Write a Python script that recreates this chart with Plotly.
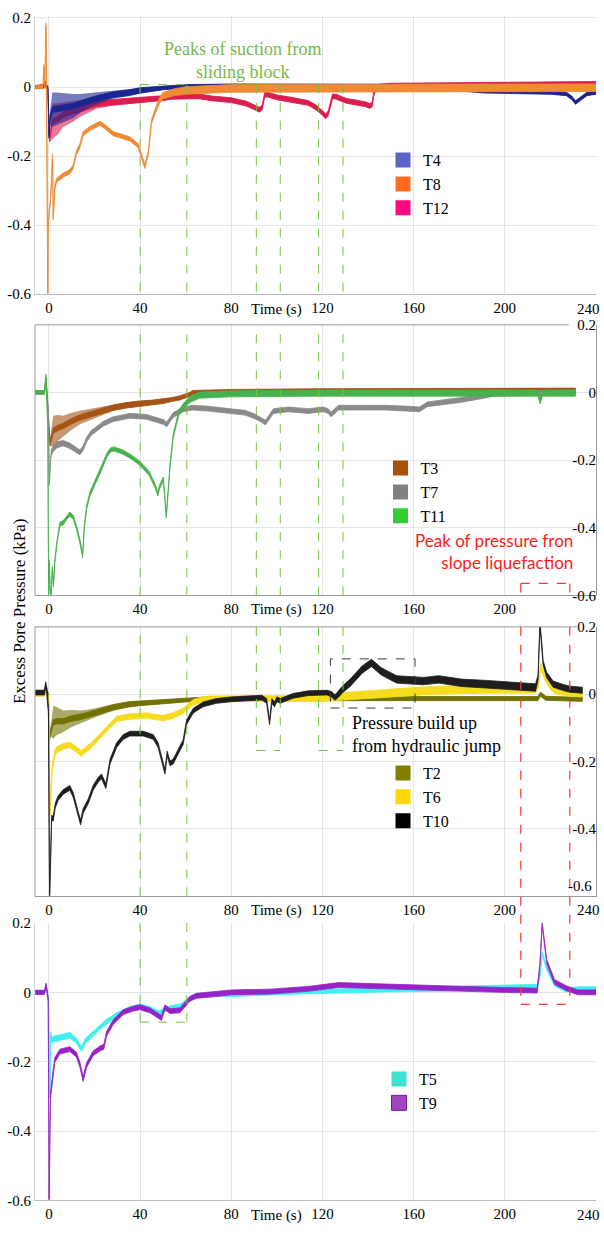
import plotly.graph_objects as go

W, H = 604, 1234
SERIF = "Liberation Serif, Times New Roman, serif"

# ---------------------------------------------------------------------------
# Excess pore pressure records: (time s, pressure kPa, half width of noise band kPa)
# ---------------------------------------------------------------------------
T4 = [(-6, 0.0, 0.004), (-2.5, 0.0, 0.004), (-1.6, 0.012, 0.004), (-1.0, 0.0, 0.004), (-0.4, 0.0, 0.004),
      (0.0, -0.144, 0.004), (0.5, -0.09, 0.02), (1.5, -0.066, 0.05), (3.4, -0.063, 0.047), (6.3, -0.06, 0.042),
      (10.7, -0.055, 0.035), (13.6, -0.048, 0.028), (17, -0.04, 0.022), (20.9, -0.033, 0.017), (28.2, -0.022, 0.012),
      (35.5, -0.016, 0.01), (39.9, -0.01, 0.008), (45, -0.006, 0.006), (50.1, -0.003, 0.005), (60, 0.002, 0.005),
      (80, 0.004, 0.005), (120, 0.004, 0.005), (150, 0.003, 0.005), (165, -0.002, 0.005), (180, -0.006, 0.005),
      (190, -0.012, 0.005), (205, -0.014, 0.005), (220, -0.016, 0.005), (227, -0.02, 0.005), (229.5, -0.032, 0.005),
      (231, -0.045, 0.005), (233, -0.034, 0.005), (236, -0.02, 0.005), (240, -0.016, 0.005)]

T8 = [(-6, 0.0, 0.005), (-2.6, 0.0, 0.005), (-2.2, 0.06, 0.005), (-1.8, 0.0, 0.005), (-1.3, 0.18, 0.005),
      (-0.9, 0.0, 0.005), (-0.5, -0.6, 0.005), (-0.3, -0.42, 0.005), (0.1, -0.36, 0.006), (0.7, -0.33, 0.006),
      (1.2, -0.25, 0.006), (1.6, -0.2, 0.006), (1.9, -0.38, 0.006), (2.6, -0.29, 0.006), (3.4, -0.27, 0.006),
      (6.3, -0.255, 0.006), (9.2, -0.245, 0.006), (10.7, -0.23, 0.006), (12.1, -0.19, 0.006), (13.6, -0.17, 0.006),
      (15, -0.135, 0.006), (18, -0.12, 0.006), (22.4, -0.105, 0.006), (24.6, -0.115, 0.006), (28.2, -0.135, 0.006),
      (35.5, -0.15, 0.006), (39.2, -0.17, 0.006), (40.6, -0.2, 0.006), (42.1, -0.23, 0.006), (43.6, -0.19, 0.006),
      (45, -0.1, 0.006), (47.2, -0.06, 0.007), (48.5, -0.04, 0.008), (50, -0.025, 0.009), (55, -0.015, 0.01),
      (60, -0.01, 0.011), (80, -0.004, 0.011), (120, -0.003, 0.011), (160, -0.002, 0.011), (200, -0.002, 0.011),
      (240, -0.002, 0.011)]

T12 = [(-6, 0.0, 0.004), (-1.5, 0.005, 0.004), (-0.8, 0.0, 0.004), (-0.3, -0.04, 0.004), (0.3, -0.15, 0.008),
       (1.5, -0.1, 0.052), (4, -0.092, 0.045), (6.3, -0.08, 0.036), (10.7, -0.07, 0.03), (13.6, -0.063, 0.024),
       (20.9, -0.049, 0.014), (28.2, -0.044, 0.01), (39.9, -0.038, 0.008), (50, -0.032, 0.007), (54, -0.028, 0.007),
       (60, -0.027, 0.007), (66, -0.027, 0.007), (71.5, -0.033, 0.007), (80, -0.038, 0.007), (86.6, -0.048, 0.007),
       (90, -0.058, 0.007), (92.5, -0.066, 0.007), (93.6, -0.058, 0.007), (94.7, -0.022, 0.007), (96, -0.022, 0.007),
       (100, -0.03, 0.007), (105, -0.035, 0.007), (110, -0.042, 0.007), (113.7, -0.046, 0.007), (117.4, -0.06, 0.007),
       (119.5, -0.072, 0.007), (121.5, -0.085, 0.007), (122.6, -0.075, 0.007), (124.4, -0.027, 0.007),
       (126, -0.028, 0.007), (130.5, -0.04, 0.007), (135, -0.045, 0.007), (139, -0.05, 0.007), (140.8, -0.055, 0.007),
       (141.8, -0.05, 0.007), (142.5, -0.02, 0.007), (143.5, 0.0, 0.007), (150, 0.004, 0.007), (180, 0.006, 0.007),
       (210, 0.008, 0.007), (240, 0.009, 0.007)]

T3 = [(-6, 0.0, 0.004), (-2, 0.0, 0.004), (-1.3, 0.04, 0.004), (-0.9, 0.0, 0.004), (-0.5, -0.05, 0.004),
      (0.0, -0.12, 0.005), (0.5, -0.15, 0.01), (1.9, -0.113, 0.044), (4, -0.105, 0.038), (6.3, -0.099, 0.03),
      (10, -0.085, 0.025), (13.6, -0.074, 0.02), (17, -0.067, 0.017), (20.9, -0.06, 0.015), (28.2, -0.045, 0.01),
      (34, -0.038, 0.009), (39.9, -0.033, 0.008), (45, -0.03, 0.007), (50.1, -0.026, 0.007), (54, -0.021, 0.006),
      (57.5, -0.016, 0.006), (60, -0.01, 0.006), (61.8, -0.006, 0.006), (63, 0.0, 0.006), (80, 0.002, 0.007),
      (120, 0.004, 0.007), (160, 0.005, 0.007), (200, 0.006, 0.007), (231, 0.006, 0.007)]

T7 = [(-6, 0.0, 0.005), (-2, 0.0, 0.005), (-1.2, 0.03, 0.005), (-0.8, 0.0, 0.005), (-0.3, -0.05, 0.005),
      (0.2, -0.27, 0.005), (0.6, -0.2, 0.006), (1.0, -0.18, 0.008), (1.9, -0.165, 0.01), (3.4, -0.155, 0.009),
      (6.3, -0.15, 0.008), (9.2, -0.158, 0.008), (12.1, -0.17, 0.007), (13.6, -0.177, 0.007), (15, -0.165, 0.007),
      (16.5, -0.14, 0.007), (18.5, -0.12, 0.007), (20.9, -0.108, 0.007), (24, -0.092, 0.007), (28.2, -0.079, 0.007),
      (35.5, -0.069, 0.007), (42.8, -0.072, 0.007), (47.2, -0.082, 0.007), (50.5, -0.088, 0.007),
      (51.6, -0.095, 0.007), (53.1, -0.08, 0.007), (54.5, -0.067, 0.007), (58.9, -0.05, 0.007), (63, -0.045, 0.007),
      (70, -0.048, 0.007), (80, -0.055, 0.007), (86, -0.06, 0.007), (90, -0.07, 0.007), (93, -0.08, 0.007),
      (95, -0.089, 0.007), (97, -0.07, 0.007), (98.5, -0.055, 0.007), (105, -0.05, 0.007), (113.7, -0.055, 0.007),
      (120.4, -0.05, 0.007), (122.5, -0.055, 0.007), (123.8, -0.065, 0.007), (125.5, -0.055, 0.007),
      (127, -0.045, 0.007), (135, -0.045, 0.007), (147.5, -0.045, 0.007), (158, -0.048, 0.007), (162.6, -0.05, 0.007),
      (166, -0.035, 0.007), (172, -0.03, 0.007), (181, -0.022, 0.007), (186, -0.016, 0.007), (191, -0.01, 0.007),
      (195, -0.004, 0.007), (200, -0.002, 0.007), (231, 0.0, 0.007)]

T11 = [(-6, 0.0, 0.005), (-2, 0.0, 0.005), (-1.3, 0.05, 0.005), (-0.9, 0.0, 0.005), (-0.5, -0.1, 0.005),
       (-0.1, -0.6, 0.005), (0.2, -0.5, 0.005), (0.5, -0.58, 0.005), (1.0, -0.6, 0.005), (1.5, -0.52, 0.005),
       (2.0, -0.57, 0.005), (2.6, -0.5, 0.005), (3.4, -0.45, 0.005), (4.8, -0.39, 0.006), (6.3, -0.385, 0.006),
       (7.8, -0.37, 0.006), (9.2, -0.36, 0.006), (10.7, -0.37, 0.006), (12.1, -0.4, 0.006), (13.6, -0.44, 0.006),
       (14.8, -0.483, 0.006), (15.5, -0.4, 0.006), (16.5, -0.342, 0.006), (18, -0.3, 0.006), (20, -0.27, 0.006),
       (22.4, -0.235, 0.006), (24, -0.21, 0.006), (25.5, -0.185, 0.006), (27, -0.17, 0.006), (28.5, -0.167, 0.006),
       (32, -0.175, 0.006), (36, -0.19, 0.006), (40, -0.21, 0.006), (44, -0.24, 0.006), (46.5, -0.275, 0.006),
       (47.8, -0.3, 0.006), (48.5, -0.28, 0.006), (50.2, -0.256, 0.006), (51.5, -0.366, 0.006), (52.2, -0.3, 0.006),
       (53.1, -0.22, 0.006), (54.5, -0.13, 0.006), (55.6, -0.1, 0.006), (57, -0.06, 0.007), (59, -0.04, 0.008),
       (62, -0.02, 0.009), (66, -0.008, 0.009), (80, -0.004, 0.009), (120, -0.002, 0.009), (160, -0.001, 0.009),
       (200, -0.002, 0.009), (214.5, -0.002, 0.009), (215.5, -0.025, 0.009), (216.5, -0.002, 0.009),
       (231, -0.002, 0.009)]

T2 = [(-6, 0.005, 0.005), (-2, 0.005, 0.005), (-1.2, 0.02, 0.005), (-0.8, 0.005, 0.005), (-0.3, 0.0, 0.005),
      (0.3, -0.13, 0.006), (0.8, -0.11, 0.015), (1.9, -0.083, 0.049), (3.4, -0.08, 0.042), (6.3, -0.08, 0.032),
      (10, -0.072, 0.025), (13.6, -0.068, 0.02), (17, -0.062, 0.016), (20.9, -0.054, 0.013), (28.2, -0.039, 0.01),
      (35, -0.03, 0.008), (39.9, -0.027, 0.007), (50.1, -0.022, 0.006), (60, -0.017, 0.006), (72, -0.013, 0.006),
      (100, -0.014, 0.006), (130, -0.015, 0.006), (160, -0.013, 0.006), (200, -0.013, 0.006), (214.5, -0.013, 0.006),
      (215.6, 0.0, 0.006), (218, -0.012, 0.006), (232, -0.015, 0.006), (234, -0.015, 0.006)]

T6 = [(-6, 0.0, 0.006), (-2, 0.0, 0.006), (-1.2, 0.01, 0.006), (-0.6, 0.0, 0.006), (0.0, -0.02, 0.006),
      (0.5, -0.357, 0.006), (0.9, -0.3, 0.007), (1.3, -0.23, 0.008), (1.9, -0.2, 0.009), (2.6, -0.175, 0.009),
      (3.4, -0.165, 0.009), (6.3, -0.155, 0.008), (9.2, -0.15, 0.008), (12.1, -0.165, 0.008), (14.3, -0.176, 0.008),
      (16, -0.165, 0.008), (18, -0.155, 0.008), (20.9, -0.136, 0.008), (25.3, -0.103, 0.008), (29.7, -0.073, 0.008),
      (35.5, -0.066, 0.008), (42.8, -0.063, 0.008), (47, -0.068, 0.008), (50.1, -0.071, 0.008), (54.5, -0.063, 0.008),
      (58.9, -0.049, 0.008), (63.3, -0.024, 0.008), (67.7, -0.015, 0.008), (72, -0.013, 0.008), (80, -0.013, 0.008),
      (96.8, -0.013, 0.008), (118.7, -0.013, 0.009), (130.6, -0.005, 0.011), (147.6, 0.003, 0.012),
      (164.3, 0.01, 0.012), (181, 0.014, 0.012), (198, 0.016, 0.012), (213.3, 0.016, 0.012), (214.8, 0.03, 0.01),
      (215.7, 0.083, 0.008), (217.6, 0.05, 0.008), (219.7, 0.025, 0.008), (222, 0.01, 0.008), (226, 0.004, 0.008),
      (234, 0.0, 0.008)]

T10 = [(-6, 0.005, 0.007), (-2, 0.005, 0.007), (-1.4, 0.03, 0.007), (-1.0, 0.01, 0.007), (-0.6, 0.0, 0.007),
       (-0.2, -0.05, 0.007), (0.3, -0.6, 0.007), (0.7, -0.5, 0.007), (1.2, -0.366, 0.007), (1.9, -0.37, 0.007),
       (2.8, -0.33, 0.007), (4.1, -0.308, 0.007), (6.3, -0.29, 0.007), (9.2, -0.278, 0.007), (10.7, -0.3, 0.007),
       (12.9, -0.357, 0.007), (13.9, -0.381, 0.007), (15, -0.347, 0.007), (17.3, -0.317, 0.007),
       (19.4, -0.278, 0.007), (21.6, -0.254, 0.007), (23.1, -0.244, 0.007), (25, -0.273, 0.007), (26.8, -0.2, 0.007),
       (29.7, -0.151, 0.007), (32.6, -0.127, 0.007), (35.5, -0.117, 0.007), (41.4, -0.117, 0.007),
       (45.8, -0.127, 0.007), (47.9, -0.151, 0.007), (49.8, -0.2, 0.007), (50.9, -0.23, 0.007), (51.9, -0.176, 0.007),
       (53.1, -0.205, 0.007), (54.5, -0.2, 0.007), (57.5, -0.161, 0.007), (58.9, -0.142, 0.007), (60.4, -0.083, 0.007),
       (63.3, -0.049, 0.007), (67.7, -0.03, 0.007), (73.5, -0.02, 0.007), (80, -0.015, 0.007), (93.4, -0.01, 0.007),
       (95.5, -0.02, 0.007), (96.8, -0.083, 0.007), (97.8, -0.02, 0.007), (99, -0.03, 0.007), (100, -0.015, 0.007),
       (101.5, -0.02, 0.007), (107, -0.005, 0.007), (113.7, 0.003, 0.007), (122, 0.005, 0.007), (124, 0.0, 0.008),
       (125.5, -0.01, 0.008), (127, 0.0, 0.009), (128.9, 0.015, 0.01), (132.3, 0.035, 0.011), (137.4, 0.073, 0.011),
       (141.5, 0.093, 0.011), (145.8, 0.068, 0.011), (152.5, 0.044, 0.011), (164.3, 0.039, 0.011),
       (171, 0.044, 0.011), (181, 0.034, 0.011), (192, 0.03, 0.011), (206.6, 0.023, 0.011), (213.5, 0.02, 0.011),
       (214.6, 0.05, 0.008), (215.4, 0.21, 0.006), (216.2, 0.15, 0.006), (216.8, 0.093, 0.007), (218.3, 0.058, 0.008),
       (221.2, 0.03, 0.009), (225.6, 0.02, 0.009), (228.5, 0.015, 0.009), (234, 0.012, 0.009)]

T5 = [(-6, 0.0, 0.005), (-2, 0.0, 0.005), (-1.2, 0.02, 0.005), (-0.7, 0.0, 0.005), (-0.2, -0.02, 0.005),
      (0.2, -0.2, 0.005), (0.5, -0.3, 0.005), (0.8, -0.12, 0.006), (1.2, -0.14, 0.007), (1.9, -0.135, 0.008),
      (3.4, -0.133, 0.008), (6.3, -0.128, 0.008), (9.2, -0.124, 0.008), (12.1, -0.14, 0.007), (14.3, -0.164, 0.007),
      (16, -0.14, 0.007), (19.4, -0.12, 0.007), (22.4, -0.1, 0.007), (25.3, -0.085, 0.007), (29.7, -0.065, 0.006),
      (35.5, -0.047, 0.006), (39.9, -0.04, 0.006), (44.3, -0.047, 0.006), (47.2, -0.057, 0.006), (48.5, -0.06, 0.006),
      (50.9, -0.05, 0.006), (53.1, -0.045, 0.006), (57.5, -0.04, 0.006), (59.6, -0.03, 0.006), (61.8, -0.02, 0.006),
      (64, -0.01, 0.006), (72, -0.006, 0.006), (80, -0.006, 0.006), (113.7, 0.002, 0.006), (147.6, 0.007, 0.006),
      (181, 0.01, 0.006), (198, 0.014, 0.006), (214.2, 0.017, 0.006), (215.5, 0.05, 0.005), (216.4, 0.112, 0.005),
      (218.4, 0.07, 0.006), (221.8, 0.024, 0.006), (226.9, 0.007, 0.006), (232, 0.01, 0.006), (240, 0.01, 0.006)]

T9 = [(-6, 0.0, 0.006), (-2, 0.0, 0.006), (-1.2, 0.02, 0.006), (-0.7, 0.0, 0.006), (-0.3, -0.02, 0.006),
      (0.1, -0.6, 0.006), (0.4, -0.406, 0.006), (0.7, -0.3, 0.006), (1.2, -0.264, 0.006), (2.6, -0.195, 0.007),
      (4.8, -0.171, 0.007), (9.2, -0.164, 0.007), (12.1, -0.18, 0.007), (13.6, -0.209, 0.007), (15, -0.25, 0.007),
      (16.5, -0.21, 0.007), (19.4, -0.176, 0.007), (22.4, -0.162, 0.007), (24.1, -0.157, 0.007), (25.3, -0.12, 0.007),
      (28.2, -0.086, 0.007), (32.6, -0.057, 0.007), (37, -0.047, 0.007), (39.9, -0.043, 0.007), (44.3, -0.052, 0.007),
      (47.2, -0.064, 0.007), (49.4, -0.074, 0.007), (50.9, -0.043, 0.007), (53.1, -0.054, 0.007),
      (57.5, -0.052, 0.007), (59.6, -0.036, 0.007), (61.8, -0.019, 0.007), (64.8, -0.01, 0.007), (72, -0.006, 0.007),
      (80, 0.0, 0.007), (96.8, 0.002, 0.007), (113.7, 0.01, 0.007), (127, 0.021, 0.007), (147.6, 0.017, 0.007),
      (164.3, 0.012, 0.007), (181, 0.01, 0.007), (198, 0.007, 0.007), (214.2, 0.005, 0.007), (215.4, 0.08, 0.005),
      (216.4, 0.197, 0.005), (218.4, 0.088, 0.006), (221.8, 0.03, 0.007), (226.9, 0.012, 0.007), (232, 0.0, 0.007),
      (240, 0.0, 0.007)]

# sensor -> (record, trace colour, legend swatch colour)
SENSORS = {
    "T4": (T4, "#1b2590", "#5c64c8"), "T8": (T8, "#ef8b33", "#ff6a1c"), "T12": (T12, "#dc1e4e", "#ff0a7e"),
    "T3": (T3, "#a45414", "#a8520c"), "T7": (T7, "#8a8a8a", "#808080"), "T11": (T11, "#47b14f", "#33cc33"),
    "T2": (T2, "#727200", "#808000"), "T6": (T6, "#f5dc1e", "#ffd700"), "T10": (T10, "#1e1e1e", "#000000"),
    "T5": (T5, "#3ff0ee", "#40e0d0"), "T9": (T9, "#9424c8", "#a044c0"),
}
# panel -> (drawing order, legend order)
PANELS = {
    1: (["T12", "T4", "T8"], ["T4", "T8", "T12"]),
    2: (["T3", "T7", "T11"], ["T3", "T7", "T11"]),
    3: (["T2", "T6", "T10"], ["T2", "T6", "T10"]),
    4: (["T5", "T9"], ["T5", "T9"]),
}

TIME_TICKS = [0, 40, 80, 120, 160, 200, 240]
P_TICKS = [-0.6, -0.4, -0.2, 0, 0.2]
P_TEXT = ["-0.6", "-0.4", "-0.2", "0", "0.2"]

# dashed marker lines (s)
SUCTION_T = [40, 60.5, 91, 101.5, 118.3, 129]
LIQ_T = [207, 228.5]
JUMP_BOX = (123.5, 160.6, -0.041, 0.105)

# records whose band exceeds OSC_HALF carry a decaying oscillation: draw it as a
# translucent envelope around a thinner solid trace of half width CORE_HALF
OSC_HALF = 0.02
CORE_HALF = 0.008

# ---------------------------------------------------------------------------
# layout geometry (pixels)
# ---------------------------------------------------------------------------
X_DOM = [35 / W, 596 / W]
T_RANGE = [-6.1, 240]
PANEL_PX = {1: (8, 290), 2: (321, 595), 3: (627, 900), 4: (927, 1208)}
P_RANGE = {1: [-0.6, 0.206], 2: [-0.6, 0.2], 3: [-0.6, 0.2], 4: [-0.6, 0.2]}
LABEL_ROW = {1: 305, 2: 609, 3: 914, 4: 1223}
# legend: left swatch centre x, top of legend box y
LEGEND_AT = {1: (403, 137), 2: (400.5, 449), 3: (403, 758), 4: (399, 1068)}


def py(px):
    return 1 - px / H


def ydom(k):
    top, bot = PANEL_PX[k]
    return [py(bot), py(top)]


def to_paper(k, val):
    lo, hi = P_RANGE[k]
    d0, d1 = ydom(k)
    return d0 + (val - lo) / (hi - lo) * (d1 - d0)


def rgba(hex_col, a):
    h = hex_col.lstrip("#")
    r, g, b = (int(h[i:i + 2], 16) for i in (0, 2, 4))
    return f"rgba({r},{g},{b},{a})"


def band(rows, cap=None):
    t = [r[0] for r in rows]
    w = [min(r[2], cap) if cap else r[2] for r in rows]
    hi = [r[1] + d for r, d in zip(rows, w)]
    lo = [r[1] - d for r, d in zip(rows, w)]
    return t + t[::-1], hi + lo[::-1]


fig = go.Figure()

for k, (order, legend_order) in PANELS.items():
    sfx = "" if k == 1 else str(k)
    for name in order:
        rows, col, _ = SENSORS[name]
        oscillating = any(r[2] > OSC_HALF for r in rows)
        if oscillating:
            xs, ys = band(rows)
            fig.add_trace(go.Scatter(
                x=xs, y=ys, mode="lines", fill="toself", fillcolor=rgba(col, 0.6),
                line=dict(width=0), xaxis="x" + sfx, yaxis="y" + sfx,
                showlegend=False, hoverinfo="skip"))
        xs, ys = band(rows, CORE_HALF if oscillating else None)
        fig.add_trace(go.Scatter(
            x=xs, y=ys, mode="lines", fill="toself", fillcolor=col,
            line=dict(color=col, width=0.8), xaxis="x" + sfx, yaxis="y" + sfx,
            showlegend=False, hoverinfo="skip"))
    for name in legend_order:
        _, col, sw = SENSORS[name]
        fig.add_trace(go.Scatter(
            x=[None], y=[None], mode="markers", name=name,
            marker=dict(symbol="square", size=15, color=sw,
                        line=dict(width=1 if name == "T9" else 0, color="#6d1f96")),
            xaxis="x" + sfx, yaxis="y" + sfx, legend="legend" + sfx))

layout = dict(
    width=W, height=H, margin=dict(l=0, r=0, t=0, b=0),
    paper_bgcolor="white", plot_bgcolor="white", showlegend=True,
    font=dict(family=SERIF, size=15, color="#000"),
)

for k in PANELS:
    sfx = "" if k == 1 else str(k)
    framed = k in (2, 3)
    tickvals = TIME_TICKS if k != 2 else TIME_TICKS[:-1]
    ticktext = [str(v) for v in TIME_TICKS[:-1]] + ([""] if k != 2 else [])
    ytv = P_TICKS[1:] if k == 3 else P_TICKS
    ytt = P_TEXT[1:] if k == 3 else P_TEXT
    layout["xaxis" + sfx] = dict(
        domain=X_DOM, range=T_RANGE, anchor="y" + sfx, tickmode="array",
        tickvals=tickvals, ticktext=ticktext, ticks="", showgrid=True,
        gridcolor="#e6e6e6", gridwidth=1, zeroline=False, showline=True,
        linecolor="#9a9a9a" if framed else "#bdbdbd", linewidth=1,
        tickfont=dict(family=SERIF, size=15, color="#000"), fixedrange=True)
    layout["yaxis" + sfx] = dict(
        domain=ydom(k), range=P_RANGE[k], anchor="x" + sfx, tickmode="array",
        tickvals=ytv, ticktext=ytt, ticks="", showgrid=True,
        gridcolor="#e6e6e6", gridwidth=1, zeroline=False, showline=True,
        linecolor="#9a9a9a" if framed else "#d4d4d4", linewidth=1,
        side="right" if framed else "left",
        ticklabelposition="inside" if framed else "outside",
        ticklabeloverflow="allow",
        tickfont=dict(family=SERIF, size=15, color="#000"), fixedrange=True)
    cx, top = LEGEND_AT[k]
    layout["legend" + sfx] = dict(
        x=(cx - 20) / W, y=py(top), xanchor="left", yanchor="top",
        bgcolor="rgba(0,0,0,0)", borderwidth=0, tracegroupgap=0,
        font=dict(family=SERIF, size=16, color="#000"), itemclick=False,
        itemdoubleclick=False)

shapes = []
GREEN = dict(color="#78c043", width=1, dash="dash")
RED = dict(color="#ff3535", width=1.2, dash="dash")

# panel frames (left and top edges) for the two middle panels
for k, t_end in ((2, 228.0), (3, 231.6)):
    sfx = str(k)
    shapes.append(dict(type="line", xref="x" + sfx + " domain", yref="y" + sfx + " domain",
                       x0=0, x1=0, y0=0, y1=1, line=dict(color="#9a9a9a", width=1)))
    shapes.append(dict(type="line", xref="x" + sfx, yref="y" + sfx + " domain",
                       x0=T_RANGE[0], x1=t_end, y0=1, y1=1, line=dict(color="#9a9a9a", width=1)))

# suction markers
top1 = 0.007
for t in SUCTION_T:
    shapes.append(dict(type="line", xref="x", yref="y", x0=t, x1=t, y0=top1, y1=-0.6, line=GREEN))
    shapes.append(dict(type="line", xref="x2", yref="y2 domain", x0=t, x1=t, y0=0, y1=1, line=GREEN))
shapes.append(dict(type="line", xref="x", yref="y", x0=SUCTION_T[0], x1=SUCTION_T[1], y0=top1, y1=top1,
                   line=GREEN))
a, b = SUCTION_T[0], SUCTION_T[1]
for t in (a, b):
    shapes.append(dict(type="line", xref="x3", yref="y3 domain", x0=t, x1=t, y0=0, y1=1, line=GREEN))
    shapes.append(dict(type="line", xref="x4", yref="y4", x0=t, x1=t, y0=0.2, y1=-0.086, line=GREEN))
shapes.append(dict(type="line", xref="x4", yref="y4", x0=a, x1=b, y0=-0.086, y1=-0.086, line=GREEN))
for a, b in ((SUCTION_T[2], SUCTION_T[3]), (SUCTION_T[4], SUCTION_T[5])):
    for t in (a, b):
        shapes.append(dict(type="line", xref="x3", yref="y3", x0=t, x1=t, y0=0.2, y1=-0.167, line=GREEN))
    shapes.append(dict(type="line", xref="x3", yref="y3", x0=a, x1=b, y0=-0.167, y1=-0.167, line=GREEN))

# slope liquefaction markers
a, b = LIQ_T
for t in (a, b):
    shapes.append(dict(type="line", xref="x2", yref="y2", x0=t, x1=t, y0=-0.565, y1=-0.6, line=RED))
    shapes.append(dict(type="line", xref="x3", yref="paper", x0=t, x1=t,
                       y0=to_paper(3, 0.2), y1=to_paper(4, -0.035), line=RED))
shapes.append(dict(type="line", xref="x2", yref="y2", x0=a, x1=b, y0=-0.565, y1=-0.565, line=RED))
shapes.append(dict(type="line", xref="x4", yref="y4", x0=a, x1=b, y0=-0.035, y1=-0.035, line=RED))

# hydraulic jump box
x0, x1, y0, y1 = JUMP_BOX
shapes.append(dict(type="rect", xref="x3", yref="y3", x0=x0, x1=x1, y0=y0, y1=y1,
                   line=dict(color="#3a3a3a", width=1, dash="dash"), fillcolor="rgba(0,0,0,0)"))
layout["shapes"] = shapes

ann = []
for k in PANELS:
    sfx = "" if k == 1 else str(k)
    ann.append(dict(text="Time (s)", xref="x" + sfx, yref="paper", x=100, y=py(LABEL_ROW[k]),
                    xanchor="center", yanchor="middle", showarrow=False,
                    font=dict(family=SERIF, size=15, color="#000")))
    if k != 2:
        ann.append(dict(text="240", xref="paper", yref="paper", x=588 / W, y=py(LABEL_ROW[k]),
                        xanchor="center", yanchor="middle", showarrow=False,
                        font=dict(family=SERIF, size=15, color="#000")))
# bottom label of the third panel's pressure scale, lifted clear of the time labels
ann.append(dict(text="-0.6", xref="paper", yref="paper", x=594 / W, y=py(890),
                xanchor="right", yanchor="middle", showarrow=False,
                font=dict(family=SERIF, size=15, color="#000")))
ann.append(dict(text="Peaks of suction from<br>sliding block", xref="paper", yref="paper",
                x=242 / W, y=py(53), xanchor="center", yanchor="middle", showarrow=False,
                font=dict(family=SERIF, size=18, color="#77b84b")))
ann.append(dict(text="Peak of pressure fron<br>slope liquefaction", xref="paper", yref="paper",
                x=575 / W, y=py(551), xanchor="right", yanchor="middle", align="right", showarrow=False,
                font=dict(family="Lato", size=17, color="#ff1a1a")))
ann.append(dict(text="Pressure build up<br>from hydraulic jump", xref="paper", yref="paper",
                x=350 / W, y=py(736), xanchor="left", yanchor="middle", align="left", showarrow=False,
                font=dict(family=SERIF, size=18, color="#000")))
ann.append(dict(text="Excess Pore Pressure (kPa)", xref="paper", yref="paper", x=19 / W, y=py(611),
                xanchor="center", yanchor="middle", textangle=-90, showarrow=False,
                font=dict(family=SERIF, size=17, color="#000")))
layout["annotations"] = ann

fig.update_layout(**layout)
fig.write_html("out.html")
